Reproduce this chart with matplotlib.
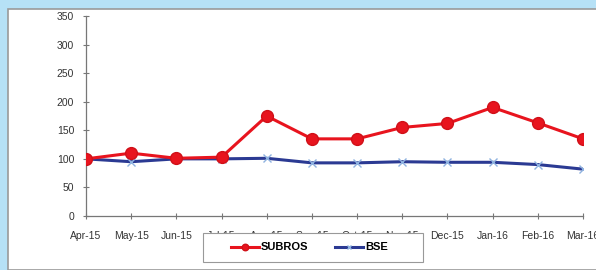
import matplotlib.pyplot as plt
from matplotlib.patches import Rectangle

months = ["Apr-15", "May-15", "Jun-15", "Jul-15", "Aug-15", "Sep-15",
          "Oct-15", "Nov-15", "Dec-15", "Jan-16", "Feb-16", "Mar-16"]
subros = [100, 110, 101, 103, 175, 135, 135, 155, 162, 190, 163, 135]
bse = [100, 95, 100, 100, 101, 93, 93, 95, 94, 94, 90, 82]
yticks = [0, 50, 100, 150, 200, 250, 300, 350]

plt.rcParams['font.family'] = ['Liberation Sans', 'DejaVu Sans']

fig = plt.figure(figsize=(5.96, 2.70), dpi=100)
fig.patch.set_facecolor('#b6e1f6')
# white panel
fig.patches.append(Rectangle((8 / 596, 0), 1, 1 - 9 / 270, transform=fig.transFigure,
                             facecolor='white', edgecolor='#9a9a9a', linewidth=1.2, zorder=-10))

ax = fig.add_axes([86 / 596, 0.2, (583 - 86) / 596, 0.7407])
ax.set_facecolor('none')
x = list(range(len(months)))
ax.plot(x, bse, color='#2b3a93', linewidth=2.2, marker='x', markersize=6,
        markeredgecolor='#8fb3e0', markeredgewidth=1.0, label='BSE', zorder=2)
ax.plot(x, subros, color='#e8141e', linewidth=2.2, marker='o', markersize=8.5,
        markeredgecolor='#d01018', label='SUBROS', zorder=3)

ax.set_xlim(0, 11)
ax.set_ylim(0, 350)
ax.set_yticks(yticks)
ax.set_xticks(x)
ax.set_xticklabels(months)
for s in ['top', 'right']:
    ax.spines[s].set_visible(False)
for s in ['left', 'bottom']:
    ax.spines[s].set_color('#777777')
    ax.spines[s].set_linewidth(0.9)
ax.tick_params(axis='both', direction='inout', length=4, width=0.8, color='#777777',
               labelsize=7.5, labelcolor='#333333')
ax.tick_params(axis='y', pad=6.5)
ax.tick_params(axis='x', pad=9)
ax.get_xticklabels()[-1].set_clip_on(False)

# legend box drawn separately, covering part of the x labels
box = Rectangle((203 / 596, 8 / 270), 220 / 596, 29 / 270, transform=fig.transFigure,
                facecolor='white', edgecolor='#999999', linewidth=0.8, zorder=4)
fig.artists.append(box)

h, l = ax.get_legend_handles_labels()
leg = fig.legend(h[::-1], l[::-1], loc='center left',
                 bbox_to_anchor=(231 / 596, 22.5 / 270), ncol=2, frameon=False,
                 handlelength=2.5, handletextpad=0.2, columnspacing=2.4,
                 borderpad=0, borderaxespad=0, markerscale=0.55,
                 prop={'weight': 'bold', 'size': 8})
leg.set_zorder(5)

fig.savefig('out.png', dpi=100, facecolor=fig.get_facecolor())
